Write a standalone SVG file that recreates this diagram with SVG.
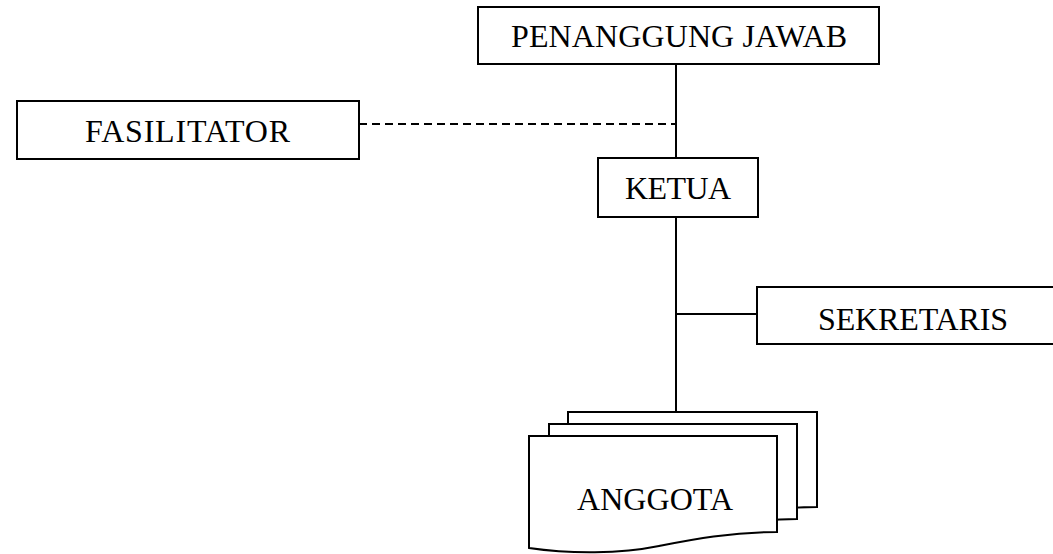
<svg xmlns="http://www.w3.org/2000/svg" width="1053" height="554" viewBox="0 0 1053 554">
<style>
.box{fill:#fff;stroke:#000;stroke-width:2}
.lbl{font-family:"Liberation Serif","Times New Roman",serif;font-size:32px;fill:#000}
.ln{stroke:#000;stroke-width:2;fill:none}
.dash{stroke:#000;stroke-width:2;fill:none;stroke-dasharray:8,5}
</style>
<rect width="1053" height="554" fill="#fff"/>
<g id="connectors">
<line class="ln" x1="676" y1="64" x2="676" y2="158"/>
<line class="ln" x1="676" y1="217" x2="676" y2="412"/>
<line class="dash" x1="359" y1="124" x2="676" y2="124"/>
<line class="ln" x1="676" y1="314" x2="757" y2="314"/>
</g>
<g id="penanggung-jawab">
<rect class="box" x="478" y="7" width="401" height="57"/>
<text class="lbl" x="511" y="46.5" textLength="336" lengthAdjust="spacing">PENANGGUNG JAWAB</text>
</g>
<g id="fasilitator">
<rect class="box" x="17" y="101" width="342" height="58"/>
<text class="lbl" x="85" y="142" textLength="205" lengthAdjust="spacing">FASILITATOR</text>
</g>
<g id="ketua">
<rect class="box" x="598" y="158" width="160" height="59"/>
<text class="lbl" x="625" y="198.5" textLength="106" lengthAdjust="spacing">KETUA</text>
</g>
<g id="sekretaris">
<rect class="box" x="757" y="287" width="300" height="57"/>
<text class="lbl" x="818" y="330" textLength="190" lengthAdjust="spacing">SEKRETARIS</text>
</g>
<g id="anggota">
<path class="box" d="M568,412 H817 V507 C770,507 730,515 699,522 C660,530 610,530 568,524 Z"/>
<path class="box" d="M549,424 H797 V519 C750,519 710,527 679,534 C640,542 590,542 549,536 Z"/>
<path class="box" d="M529,436 H777 V532 C730,532 690,540 659,546 C620,554 570,554 529,548 Z"/>
<text class="lbl" x="577" y="510" textLength="156" lengthAdjust="spacing">ANGGOTA</text>
</g>
</svg>
